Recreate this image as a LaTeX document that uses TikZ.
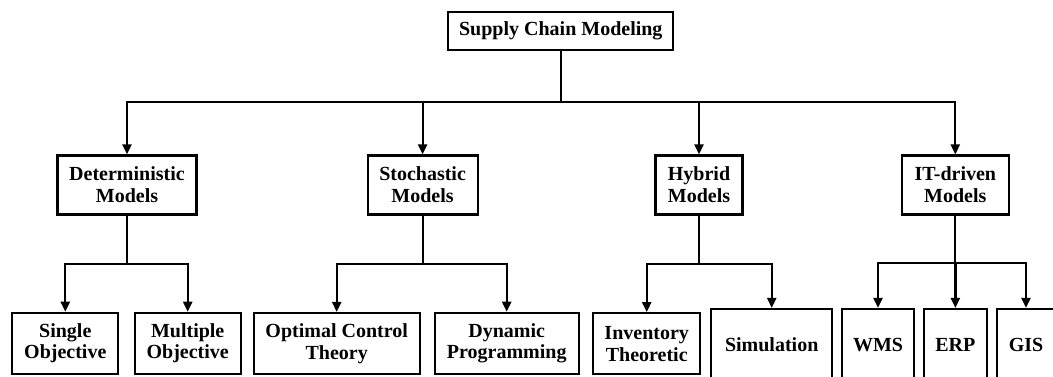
\documentclass[tikz,border=0pt]{standalone}
\usepackage{fontspec}
\setmainfont{Liberation Serif}
\usetikzlibrary{arrows.meta}
\begin{document}
\begin{tikzpicture}[x=1pt,y=-1pt,
  box/.style={draw, line width=2.2pt, inner sep=0pt, align=center,
    font=\bfseries\fontsize{20}{21.7}\selectfont},
  link/.style={line width=2.2pt, -{Triangle[length=10pt,width=9pt]}}]
\clip (0,0) rectangle (1053,376);
\fill[white] (0,0) rectangle (1053,376);

% root
\node[box, minimum width=225pt, minimum height=38pt] (root) at (560.8,31) {Supply Chain Modeling};

% second level
\node[box, minimum width=139pt, minimum height=59pt] (det) at (127,185) {Deterministic\\Models};
\node[box, minimum width=110pt, minimum height=59pt] (sto) at (422.6,185) {Stochastic\\Models};
\node[box, minimum width=87pt, minimum height=59pt] (hyb) at (699,185) {Hybrid\\Models};
\node[box, minimum width=107pt, minimum height=59pt] (itd) at (955.3,185) {IT-driven\\Models};

% third level
\node[box, minimum width=106pt, minimum height=61pt] (single) at (65.3,343.3) {Single\\Objective};
\node[box, minimum width=106pt, minimum height=61pt] (multi) at (187.7,343.3) {Multiple\\Objective};
\node[box, minimum width=166pt, minimum height=61pt] (oct) at (336.7,343.5) {Optimal Control\\Theory};
\node[box, minimum width=144pt, minimum height=61pt] (dyn) at (506.7,343.3) {Dynamic\\Programming};
\node[box, minimum width=107pt, minimum height=61pt] (inv) at (646.7,343.7) {Inventory\\Theoretic};
\node[box, minimum width=121pt, minimum height=72pt] (sim) at (771.7,345) {Simulation};
\node[box, minimum width=72pt, minimum height=72pt] (wms) at (878,345) {WMS};
\node[box, minimum width=63pt, minimum height=72pt] (erp) at (955.4,345) {ERP};
\node[box, minimum width=58pt, minimum height=72pt] (gis) at (1026,345) {GIS};

% bus levels
\coordinate (busA) at (0,102);
\coordinate (busB) at (0,264);
\coordinate (busC) at (0,262.6);

% root to second level
\foreach \c in {det,sto,hyb,itd}
  \draw[link] (root.south) -- (root.south |- busA) -| (\c.north);

% second level to third level
\foreach \c in {single,multi}
  \draw[link] (det.south) -- (det.south |- busB) -| (\c.north);
\foreach \c in {oct,dyn}
  \draw[link] (sto.south) -- (sto.south |- busB) -| (\c.north);
\foreach \c in {inv,sim}
  \draw[link] (hyb.south) -- (hyb.south |- busB) -| (\c.north);
\foreach \c in {wms,erp,gis}
  \draw[link] (itd.south) -- (itd.south |- busC) -| (\c.north);
\end{tikzpicture}
\end{document}
